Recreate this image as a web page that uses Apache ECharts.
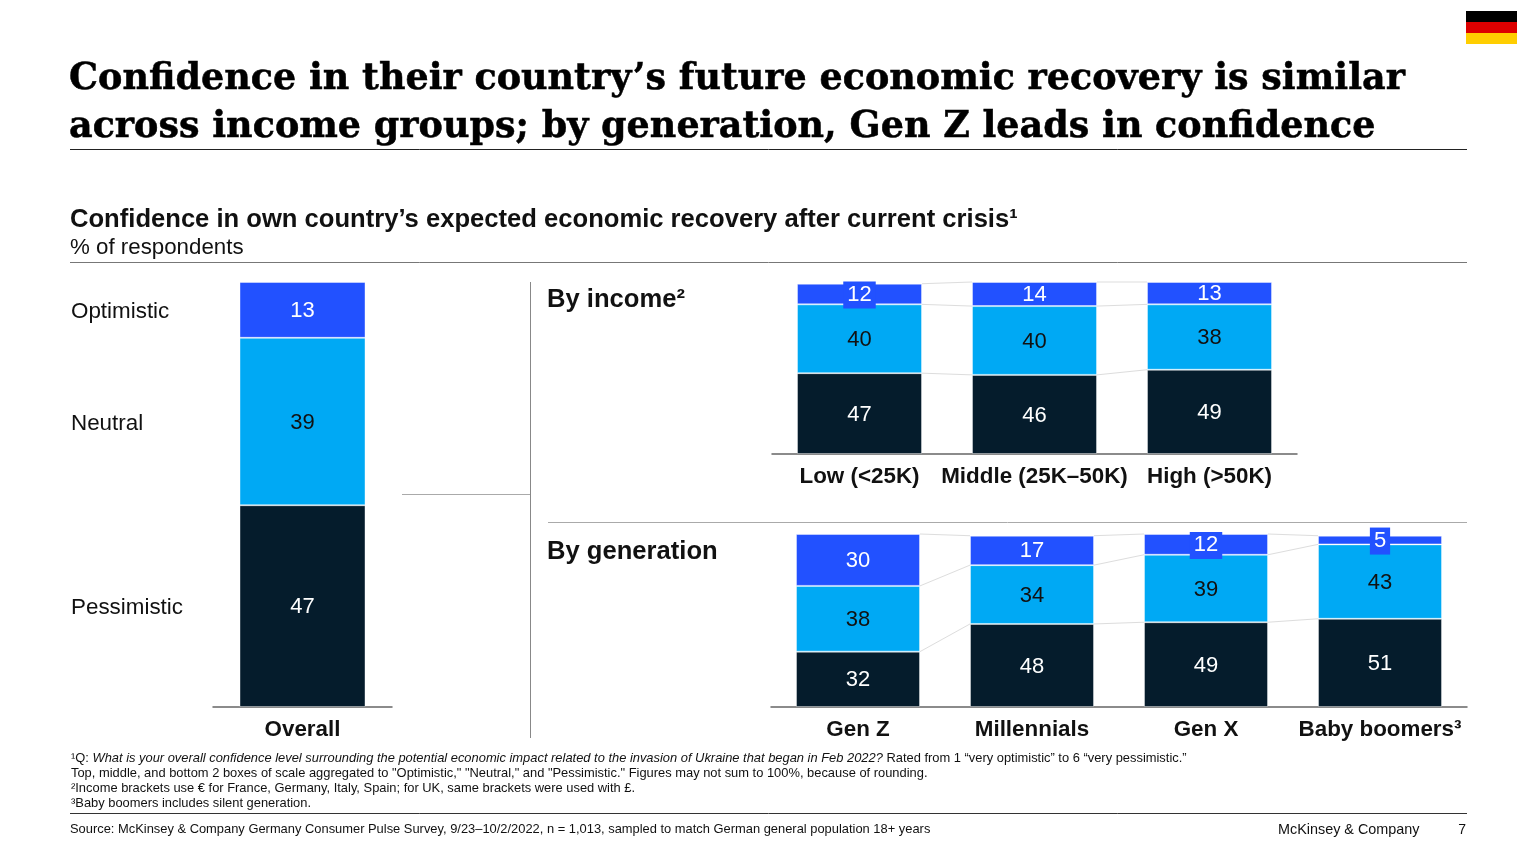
<!DOCTYPE html>
<html>
<head>
<meta charset="utf-8">
<title>Confidence in economic recovery</title>
<script src="https://cdn.jsdelivr.net/npm/echarts@6/dist/echarts.min.js"></script>
<style>
  html, body { margin: 0; padding: 0; background: #fff; }
  #chart { width: 1536px; height: 864px; }
</style>
</head>
<body>
<div id="chart"></div>
<script>
// values
const overallCats = ['Overall'];
const overallPessimistic = [47];
const overallNeutral = [39];
const overallOptimistic = [13];

const incomeCats = ['Low (<25K)', 'Middle (25K–50K)', 'High (>50K)'];
const incomePessimistic = [47, 46, 49];
const incomeNeutral = [40, 40, 38];
const incomeOptimistic = [12, 14, 13];

const genCats = ['Gen Z', 'Millennials', 'Gen X', 'Baby boomers³'];
const genPessimistic = [32, 48, 49, 51];
const genNeutral = [38, 34, 39, 43];
const genOptimistic = [30, 17, 12, 5];

const DARK = '#051C2C', CYAN = '#00A9F4', BLUE = '#2251FF';
const SANS = '"Liberation Sans", Arial, sans-serif';
const SERIF = '"DejaVu Serif", Georgia, serif';

// one bar segment series; small blue segments get a label box that pokes out
function barSeries(idx, name, values, color, textColor, barWidth) {
    return {
        type: 'bar',
        name: name,
        xAxisIndex: idx,
        yAxisIndex: idx,
        stack: 'g' + idx,
        barWidth: barWidth,
        z: 3,
        data: values.map(function (v) {
            const item = { value: v };
            if (color === BLUE && v <= 12 && idx > 0) {
                item.label = { backgroundColor: BLUE, padding: [3, 4, 2, 4] };
            }
            return item;
        }),
        itemStyle: { color: color, borderColor: 'rgba(255,255,255,0.4)', borderWidth: 1 },
        label: {
            show: true,
            position: 'inside',
            offset: [0, 1],
            color: textColor,
            fontFamily: SANS,
            fontSize: 22
        }
    };
}

// thin grey lines joining the segment tops of neighbouring bars
function connectorSeries(idx, stacks, barWidth) {
    const rows = [];
    let running = stacks[0].map(function () { return 0; });
    stacks.forEach(function (values) {
        running = running.map(function (r, i) { return r + values[i]; });
        for (let i = 0; i < running.length - 1; i++) {
            rows.push([i, running[i], running[i + 1]]);
        }
    });
    return {
        type: 'custom',
        xAxisIndex: idx,
        yAxisIndex: idx,
        z: 1,
        silent: true,
        data: rows,
        encode: { x: 0, y: 1 },
        renderItem: function (params, api) {
            const a = api.coord([api.value(0), api.value(1)]);
            const b = api.coord([api.value(0) + 1, api.value(2)]);
            return {
                type: 'line',
                shape: { x1: a[0] + barWidth / 2, y1: a[1], x2: b[0] - barWidth / 2, y2: b[1] },
                style: { stroke: '#DDDDDD', lineWidth: 1 }
            };
        }
    };
}

function xAxis(idx, cats) {
    return {
        type: 'category',
        gridIndex: idx,
        data: cats,
        axisTick: { show: false },
        axisLine: { lineStyle: { color: '#666666', width: 1.5 } },
        axisLabel: {
            interval: 0,
            margin: 12,
            color: '#111111',
            fontFamily: SANS,
            fontWeight: 'bold',
            fontSize: 22.4
        }
    };
}

function yAxis(idx, max) {
    return { type: 'value', gridIndex: idx, min: 0, max: max, show: false };
}

function label(x, y, text, size, extra) {
    return {
        type: 'text',
        silent: true,
        style: Object.assign({
            x: x, y: y, text: text,
            fontFamily: SANS, fontSize: size,
            fill: '#111111', verticalAlign: 'middle'
        }, extra || {})
    };
}

function rule(x1, y1, x2, y2, color) {
    return {
        type: 'line',
        silent: true,
        shape: { x1: x1, y1: y1, x2: x2, y2: y2 },
        style: { stroke: color, lineWidth: 1 }
    };
}

const titleStyle = { fontFamily: SERIF, fontWeight: 'bold', fill: '#000000', stroke: '#000000', lineWidth: 0.5 };
const NOTE = 12.9;

const chart = echarts.init(document.getElementById('chart'));
chart.setOption({
    animation: false,
    backgroundColor: '#ffffff',
    tooltip: { show: false },
    grid: [
        { left: 213, width: 179, top: 282, height: 425 },
        { left: 772, width: 525, top: 282, height: 172 },
        { left: 771, width: 696, top: 534, height: 173 }
    ],
    xAxis: [xAxis(0, overallCats), xAxis(1, incomeCats), xAxis(2, genCats)],
    yAxis: [yAxis(0, 99), yAxis(1, 100), yAxis(2, 100)],
    series: [
        barSeries(0, 'Pessimistic', overallPessimistic, DARK, '#fff', 126),
        barSeries(0, 'Neutral', overallNeutral, CYAN, '#111', 126),
        barSeries(0, 'Optimistic', overallOptimistic, BLUE, '#fff', 126),

        connectorSeries(1, [incomePessimistic, incomeNeutral, incomeOptimistic], 125),
        barSeries(1, 'Pessimistic', incomePessimistic, DARK, '#fff', 125),
        barSeries(1, 'Neutral', incomeNeutral, CYAN, '#111', 125),
        barSeries(1, 'Optimistic', incomeOptimistic, BLUE, '#fff', 125),

        connectorSeries(2, [genPessimistic, genNeutral, genOptimistic], 124),
        barSeries(2, 'Pessimistic', genPessimistic, DARK, '#fff', 124),
        barSeries(2, 'Neutral', genNeutral, CYAN, '#111', 124),
        barSeries(2, 'Optimistic', genOptimistic, BLUE, '#fff', 124)
    ],
    graphic: [
        // flag
        { type: 'rect', silent: true, shape: { x: 1466, y: 11, width: 51, height: 11 }, style: { fill: '#000000' } },
        { type: 'rect', silent: true, shape: { x: 1466, y: 22, width: 51, height: 11 }, style: { fill: '#DD0000' } },
        { type: 'rect', silent: true, shape: { x: 1466, y: 33, width: 51, height: 11 }, style: { fill: '#FFCE00' } },

        label(69, 79.5, 'Confidence in their country’s future economic recovery is similar', 36.5, titleStyle),
        label(69, 127.5, 'across income groups; by generation, Gen Z leads in confidence', 36.5, titleStyle),
        rule(70, 149.5, 1467, 149.5, '#222222'),

        label(70, 220, 'Confidence in own country’s expected economic recovery after current crisis¹', 25.6, { fontWeight: 'bold' }),
        label(70, 248, '% of respondents', 22.3),
        rule(70, 262.5, 1467, 262.5, '#777777'),

        label(71, 312, 'Optimistic', 22.4),
        label(71, 424, 'Neutral', 22.4),
        label(71, 608, 'Pessimistic', 22.4),

        rule(402, 494.5, 530, 494.5, '#AAAAAA'),
        rule(530.5, 282, 530.5, 738, '#888888'),
        rule(548, 522.5, 1467, 522.5, '#AAAAAA'),

        label(547, 300, 'By income²', 25.6, { fontWeight: 'bold' }),
        label(547, 552, 'By generation', 25.6, { fontWeight: 'bold' }),

        label(71, 758, '¹Q: {i|What is your overall confidence level surrounding the potential economic impact related to the invasion of Ukraine that began in Feb 2022?} Rated from 1 “very optimistic” to 6 “very pessimistic.”', NOTE, {
            rich: { i: { fontFamily: SANS, fontSize: NOTE, fontStyle: 'italic', fill: '#111111' } }
        }),
        label(71, 773.5, 'Top, middle, and bottom 2 boxes of scale aggregated to "Optimistic," "Neutral," and "Pessimistic." Figures may not sum to 100%, because of rounding.', NOTE),
        label(71, 788.5, '²Income brackets use € for France, Germany, Italy, Spain; for UK, same brackets were used with £.', NOTE),
        label(71, 803.5, '³Baby boomers includes silent generation.', NOTE),
        rule(70, 813.5, 1467, 813.5, '#333333'),
        label(70, 829, 'Source: McKinsey & Company Germany Consumer Pulse Survey, 9/23–10/2/2022, n = 1,013, sampled to match German general population 18+ years', NOTE),
        label(1278, 830, 'McKinsey & Company', 14.4),
        label(1466, 830, '7', 14, { align: 'right' })
    ]
});
window.addEventListener('resize', chart.resize);
</script>
</body>
</html>
